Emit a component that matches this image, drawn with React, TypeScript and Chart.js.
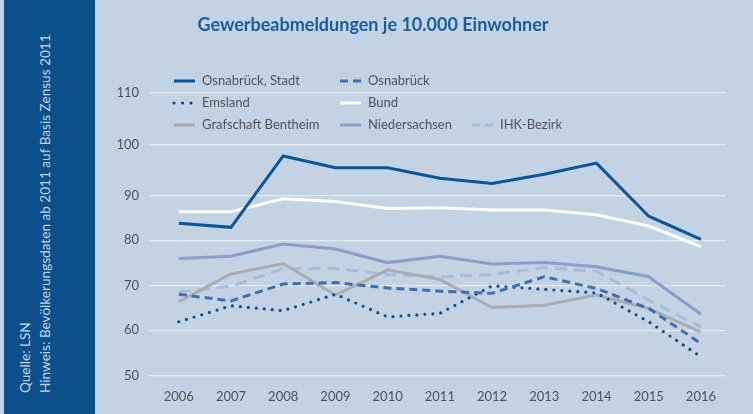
import React, { useEffect, useRef } from 'react';
import { Chart, registerables, LinearScale } from 'chart.js';

Chart.register(...registerables);

const TITLE = 'Gewerbeabmeldungen je 10.000 Einwohner';
const SOURCE_LINES = ['Quelle: LSN', 'Hinweis: Bevölkerungsdaten ab 2011 auf Basis Zensus 2011'];

const YEARS = [2006, 2007, 2008, 2009, 2010, 2011, 2012, 2013, 2014, 2015, 2016];
const OSNABRUECK_STADT = [83.8, 82.9, 97.8, 95.5, 95.5, 93.4, 92.4, 94.2, 96.4, 85.4, 80.2];
const OSNABRUECK = [68.1, 66.6, 70.4, 70.7, 69.5, 68.8, 68.3, 72.0, 69.4, 64.9, 57.1];
const EMSLAND = [61.9, 65.5, 64.4, 68.1, 63.0, 63.8, 70.0, 69.2, 68.4, 61.9, 54.2];
const BUND = [86.4, 86.4, 89.3, 88.7, 87.1, 87.3, 86.8, 86.8, 85.7, 83.2, 78.6];
const GRAFSCHAFT_BENTHEIM = [66.4, 72.6, 74.9, 67.9, 73.5, 71.4, 65.1, 65.6, 67.9, 64.9, 59.6];
const NIEDERSACHSEN = [76.0, 76.5, 79.2, 78.1, 75.1, 76.5, 74.8, 75.1, 74.2, 72.0, 63.6];
const IHK_BEZIRK = [68.6, 69.9, 73.8, 73.8, 72.5, 72.0, 72.5, 74.0, 73.2, 66.8, 60.7];

const Y_TICKS = [50, 60, 70, 80, 90, 100, 110];
// relative spacing of the gridline bands as drawn in the source graphic
const BAND_WEIGHTS = [45.7, 44.3, 45.4, 44.6, 50.7, 51.7];

const FONT = 'Lato, "Open Sans", sans-serif';
const TEXT_GRAY = '#4f5357';

function valueToFrac(v: number): number {
  const total = BAND_WEIGHTS.reduce((a, b) => a + b, 0);
  let acc = 0;
  for (let i = 0; i < BAND_WEIGHTS.length; i++) {
    const lo = Y_TICKS[i];
    const hi = Y_TICKS[i + 1];
    if (v <= hi || i === BAND_WEIGHTS.length - 1) {
      return (acc + ((v - lo) / (hi - lo)) * BAND_WEIGHTS[i]) / total;
    }
    acc += BAND_WEIGHTS[i];
  }
  return 1;
}

function fracToValue(f: number): number {
  const total = BAND_WEIGHTS.reduce((a, b) => a + b, 0);
  const target = f * total;
  let acc = 0;
  for (let i = 0; i < BAND_WEIGHTS.length; i++) {
    const w = BAND_WEIGHTS[i];
    if (target <= acc + w || i === BAND_WEIGHTS.length - 1) {
      return Y_TICKS[i] + ((target - acc) / w) * (Y_TICKS[i + 1] - Y_TICKS[i]);
    }
    acc += w;
  }
  return Y_TICKS[Y_TICKS.length - 1];
}

class BandedScale extends LinearScale {
  static id = 'banded';
  static defaults = LinearScale.defaults;
  getPixelForValue(value: number) {
    if (value === null || value === undefined || isNaN(value)) return NaN;
    return this.getPixelForDecimal(valueToFrac(value));
  }
  getValueForPixel(pixel: number) {
    return fracToValue(this.getDecimalForPixel(pixel));
  }
}
Chart.register(BandedScale as any);

type SeriesDef = {
  label: string;
  data: number[];
  color: string;
  width: number;
  dash: number[];
  legendDash: number[];
  cap: CanvasLineCap;
  slot: { x: number; y: number };
};

const SERIES: SeriesDef[] = [
  { label: 'Osnabrück, Stadt', data: OSNABRUECK_STADT, color: '#0b559a', width: 3, dash: [], legendDash: [], cap: 'butt', slot: { x: 174, y: 81 } },
  { label: 'Osnabrück', data: OSNABRUECK, color: '#3f6fb2', width: 3, dash: [8, 5], legendDash: [8, 5], cap: 'butt', slot: { x: 340, y: 81 } },
  { label: 'Emsland', data: EMSLAND, color: '#0b4f8f', width: 3.2, dash: [0, 8], legendDash: [0, 8.5], cap: 'round', slot: { x: 174, y: 103 } },
  { label: 'Bund', data: BUND, color: '#ffffff', width: 3, dash: [], legendDash: [], cap: 'butt', slot: { x: 340, y: 103 } },
  { label: 'Grafschaft Bentheim', data: GRAFSCHAFT_BENTHEIM, color: '#a9adb2', width: 3, dash: [], legendDash: [], cap: 'butt', slot: { x: 174, y: 125 } },
  { label: 'Niedersachsen', data: NIEDERSACHSEN, color: '#8a9dcb', width: 3, dash: [], legendDash: [], cap: 'butt', slot: { x: 340, y: 125 } },
  { label: 'IHK-Bezirk', data: IHK_BEZIRK, color: '#a5bddb', width: 3, dash: [12, 7], legendDash: [8, 5], cap: 'butt', slot: { x: 472, y: 125 } },
];

const overlayPlugin = {
  id: 'overlayTexts',
  afterDraw(chart: any) {
    const ctx = chart.ctx as CanvasRenderingContext2D;
    ctx.save();
    ctx.font = `bold 18px ${FONT}`;
    ctx.fillStyle = '#1b5c9c';
    ctx.textAlign = 'center';
    ctx.textBaseline = 'middle';
    ctx.fillText(TITLE, 373, 25);

    ctx.font = `13px ${FONT}`;
    ctx.textAlign = 'left';
    SERIES.forEach((s) => {
      const { x, y } = s.slot;
      ctx.save();
      ctx.strokeStyle = s.color;
      ctx.lineWidth = s.width;
      ctx.lineCap = s.cap;
      ctx.setLineDash(s.legendDash);
      ctx.beginPath();
      ctx.moveTo(x, y);
      ctx.lineTo(x + (s.cap === 'round' ? 17.5 : 21), y);
      ctx.stroke();
      ctx.restore();
      ctx.fillStyle = TEXT_GRAY;
      ctx.fillText(s.label, x + 28, y);
    });
    ctx.restore();
  },
};

export default function App() {
  const canvasRef = useRef<HTMLCanvasElement | null>(null);

  useEffect(() => {
    const canvas = canvasRef.current;
    if (!canvas) return;
    const chart = new Chart(canvas, {
      type: 'line',
      data: {
        datasets: SERIES.map((s) => ({
          label: s.label,
          data: YEARS.map((yr, i) => ({ x: yr, y: s.data[i] })),
          borderColor: s.color,
          backgroundColor: s.color,
          borderWidth: s.width,
          borderDash: s.dash,
          borderCapStyle: s.cap,
          borderJoinStyle: 'miter',
          pointRadius: 0,
          tension: 0,
          fill: false,
        })),
      },
      options: {
        animation: false,
        responsive: false,
        devicePixelRatio: 1,
        layout: { padding: { left: 100, right: 27, top: 93, bottom: 0 } },
        plugins: {
          legend: { display: false },
          title: { display: false },
          tooltip: { enabled: false },
        },
        scales: {
          x: {
            type: 'linear',
            min: 2005.43,
            max: 2016.48,
            grid: { display: false },
            border: { display: false },
            ticks: {
              stepSize: 1,
              includeBounds: false,
              autoSkip: false,
              maxRotation: 0,
              padding: 5,
              color: TEXT_GRAY,
              font: { family: FONT, size: 13 },
              callback: (v: any) => String(v),
            },
            afterFit: (scale: any) => {
              scale.height = 38;
            },
          },
          y: {
            type: 'banded' as any,
            min: 50,
            max: 110,
            grid: { color: '#e4ebf3', lineWidth: 1.3, drawTicks: false },
            border: { display: false },
            ticks: {
              stepSize: 10,
              padding: 10,
              color: TEXT_GRAY,
              font: { family: FONT, size: 13 },
            },
            afterFit: (scale: any) => {
              scale.width = 49;
            },
          },
        },
      },
      plugins: [overlayPlugin],
    });
    return () => chart.destroy();
  }, []);

  return (
    <div style={{ position: 'fixed', left: 0, top: 0, width: 753, height: 414, background: '#c4d3e3', overflow: 'hidden' }}>
      <div style={{ position: 'absolute', left: 4, top: 0, width: 91, height: 414, background: '#0b4f8b' }}>
        {SOURCE_LINES.map((line, i) => (
          <div
            key={i}
            style={{
              position: 'absolute',
              left: 11 + i * 20,
              top: 393,
              transformOrigin: '0 0',
              transform: 'rotate(-90deg)',
              whiteSpace: 'nowrap',
              fontFamily: FONT,
              fontSize: 13.6,
              lineHeight: '20px',
              color: '#c7d5e6',
            }}
          >
            {line}
          </div>
        ))}
      </div>
      <canvas ref={canvasRef} width={753} height={414} style={{ position: 'absolute', left: 0, top: 0 }} />
    </div>
  );
}
